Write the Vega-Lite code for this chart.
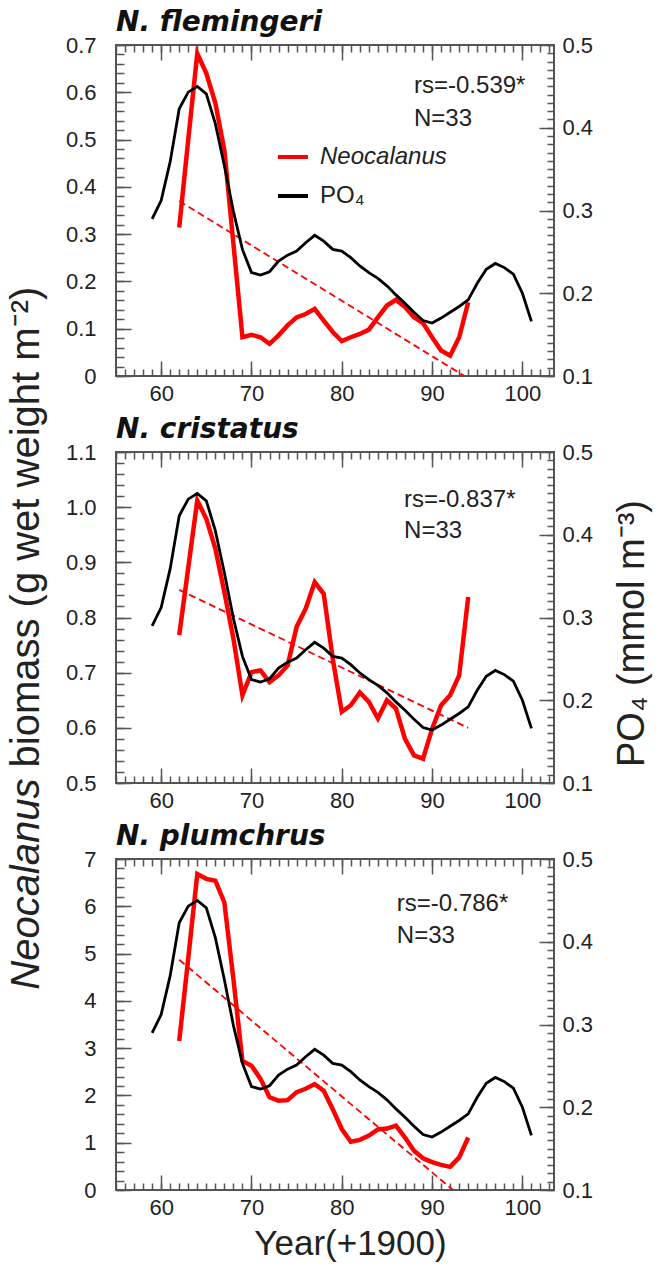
{
"$schema": "https://vega.github.io/schema/vega-lite/v6.json",
"padding": {"left": 4, "top": 8, "right": 2, "bottom": 2},
"autosize": {"type": "pad"},
"spacing": 76,
"bounds": "flush",
"config": {
  "view": {"stroke": "#555", "strokeWidth": 2},
  "axis": {"labelFont": "Liberation Sans", "labelFontSize": 22, "labelColor": "#222", "ticks": false, "domain": false, "grid": false, "gridColor": "#555", "gridWidth": 1.5, "gridOpacity": 1, "titleFont": "Liberation Sans", "titleFontWeight": "normal", "titleColor": "#222"},
  "title": {"font": "DejaVu Sans", "fontSize": 28, "fontWeight": "bold", "fontStyle": "italic", "anchor": "start", "frame": "group", "offset": -3, "color": "#111"}
},
"datasets": {
  "neo": [
    {"sp":"fl","year":62,"v":0.314},{"sp":"fl","year":63,"v":0.50},{"sp":"fl","year":64,"v":0.682},{"sp":"fl","year":65,"v":0.64},{"sp":"fl","year":66,"v":0.577},{"sp":"fl","year":67,"v":0.478},{"sp":"fl","year":68,"v":0.28},{"sp":"fl","year":69,"v":0.082},{"sp":"fl","year":70,"v":0.087},{"sp":"fl","year":71,"v":0.082},{"sp":"fl","year":72,"v":0.068},{"sp":"fl","year":73,"v":0.086},{"sp":"fl","year":74,"v":0.107},{"sp":"fl","year":75,"v":0.124},{"sp":"fl","year":76,"v":0.131},{"sp":"fl","year":77,"v":0.142},{"sp":"fl","year":78,"v":0.117},{"sp":"fl","year":79,"v":0.093},{"sp":"fl","year":80,"v":0.074},{"sp":"fl","year":81,"v":0.082},{"sp":"fl","year":82,"v":0.089},{"sp":"fl","year":83,"v":0.098},{"sp":"fl","year":84,"v":0.124},{"sp":"fl","year":85,"v":0.149},{"sp":"fl","year":86,"v":0.161},{"sp":"fl","year":87,"v":0.146},{"sp":"fl","year":88,"v":0.124},{"sp":"fl","year":89,"v":0.112},{"sp":"fl","year":90,"v":0.082},{"sp":"fl","year":91,"v":0.054},{"sp":"fl","year":92,"v":0.043},{"sp":"fl","year":93,"v":0.082},{"sp":"fl","year":94,"v":0.156},
    {"sp":"cr","year":62,"v":0.768},{"sp":"cr","year":63,"v":0.89},{"sp":"cr","year":64,"v":1.012},{"sp":"cr","year":65,"v":0.979},{"sp":"cr","year":66,"v":0.925},{"sp":"cr","year":67,"v":0.846},{"sp":"cr","year":68,"v":0.762},{"sp":"cr","year":69,"v":0.659},{"sp":"cr","year":70,"v":0.701},{"sp":"cr","year":71,"v":0.704},{"sp":"cr","year":72,"v":0.683},{"sp":"cr","year":73,"v":0.695},{"sp":"cr","year":74,"v":0.713},{"sp":"cr","year":75,"v":0.783},{"sp":"cr","year":76,"v":0.816},{"sp":"cr","year":77,"v":0.864},{"sp":"cr","year":78,"v":0.843},{"sp":"cr","year":79,"v":0.725},{"sp":"cr","year":80,"v":0.629},{"sp":"cr","year":81,"v":0.641},{"sp":"cr","year":82,"v":0.664},{"sp":"cr","year":83,"v":0.647},{"sp":"cr","year":84,"v":0.617},{"sp":"cr","year":85,"v":0.650},{"sp":"cr","year":86,"v":0.635},{"sp":"cr","year":87,"v":0.580},{"sp":"cr","year":88,"v":0.550},{"sp":"cr","year":89,"v":0.544},{"sp":"cr","year":90,"v":0.598},{"sp":"cr","year":91,"v":0.641},{"sp":"cr","year":92,"v":0.659},{"sp":"cr","year":93,"v":0.695},{"sp":"cr","year":94,"v":0.837},
    {"sp":"pl","year":62,"v":3.15},{"sp":"pl","year":63,"v":4.9},{"sp":"pl","year":64,"v":6.68},{"sp":"pl","year":65,"v":6.58},{"sp":"pl","year":66,"v":6.54},{"sp":"pl","year":67,"v":6.08},{"sp":"pl","year":68,"v":4.46},{"sp":"pl","year":69,"v":2.73},{"sp":"pl","year":70,"v":2.63},{"sp":"pl","year":71,"v":2.35},{"sp":"pl","year":72,"v":1.96},{"sp":"pl","year":73,"v":1.89},{"sp":"pl","year":74,"v":1.90},{"sp":"pl","year":75,"v":2.07},{"sp":"pl","year":76,"v":2.14},{"sp":"pl","year":77,"v":2.24},{"sp":"pl","year":78,"v":2.10},{"sp":"pl","year":79,"v":1.71},{"sp":"pl","year":80,"v":1.29},{"sp":"pl","year":81,"v":1.02},{"sp":"pl","year":82,"v":1.06},{"sp":"pl","year":83,"v":1.15},{"sp":"pl","year":84,"v":1.28},{"sp":"pl","year":85,"v":1.30},{"sp":"pl","year":86,"v":1.36},{"sp":"pl","year":87,"v":1.11},{"sp":"pl","year":88,"v":0.83},{"sp":"pl","year":89,"v":0.67},{"sp":"pl","year":90,"v":0.59},{"sp":"pl","year":91,"v":0.53},{"sp":"pl","year":92,"v":0.49},{"sp":"pl","year":93,"v":0.69},{"sp":"pl","year":94,"v":1.11}
  ],
  "po4": [
    {"year":59,"v":0.290},{"year":60,"v":0.312},{"year":61,"v":0.359},{"year":62,"v":0.423},{"year":63,"v":0.443},{"year":64,"v":0.450},{"year":65,"v":0.441},{"year":66,"v":0.405},{"year":67,"v":0.354},{"year":68,"v":0.299},{"year":69,"v":0.253},{"year":70,"v":0.225},{"year":71,"v":0.222},{"year":72,"v":0.226},{"year":73,"v":0.239},{"year":74,"v":0.246},{"year":75,"v":0.251},{"year":76,"v":0.261},{"year":77,"v":0.270},{"year":78,"v":0.263},{"year":79,"v":0.253},{"year":80,"v":0.251},{"year":81,"v":0.243},{"year":82,"v":0.233},{"year":83,"v":0.225},{"year":84,"v":0.218},{"year":85,"v":0.209},{"year":86,"v":0.198},{"year":87,"v":0.188},{"year":88,"v":0.177},{"year":89,"v":0.167},{"year":90,"v":0.164},{"year":91,"v":0.170},{"year":92,"v":0.177},{"year":93,"v":0.184},{"year":94,"v":0.192},{"year":95,"v":0.212},{"year":96,"v":0.229},{"year":97,"v":0.236},{"year":98,"v":0.231},{"year":99,"v":0.223},{"year":100,"v":0.200},{"year":101,"v":0.166}
  ],
  "fit": [
    {"sp":"fl","year":62,"v":0.37},{"sp":"fl","year":94,"v":-0.005},
    {"sp":"cr","year":62,"v":0.85},{"sp":"cr","year":94,"v":0.60},
    {"sp":"pl","year":62,"v":4.87},{"sp":"pl","year":94,"v":-0.27}
  ],
  "ann": [
    {"sp":"fl","year":88,"y":0.45,"label":"rs=-0.539*"},{"sp":"fl","year":88,"y":0.411,"label":"N=33"},
    {"sp":"cr","year":86.9,"y":0.442,"label":"rs=-0.837*"},{"sp":"cr","year":86.9,"y":0.405,"label":"N=33"},
    {"sp":"pl","year":86.1,"y":0.446,"label":"rs=-0.786*"},{"sp":"pl","year":86.1,"y":0.407,"label":"N=33"}
  ]
},
"vconcat": [
  {
    "title": "N. flemingeri",
    "width": 438, "height": 331,
    "resolve": {"scale": {"y": "independent"}, "axis": {"x": "independent", "y": "independent"}},
    "layer": [
      {"data": {"name": "neo"}, "transform": [{"filter": "datum.sp === 'fl'"}],
       "mark": {"type": "line", "strokeWidth": 4.5, "clip": true},
       "encoding": {
         "x": {"field": "year", "type": "quantitative", "scale": {"domain": [55, 103.5], "nice": false, "zero": false}, "axis": {"orient": "bottom", "values": [60,70,80,90,100], "labelPadding": 7, "title": null}},
         "y": {"field": "v", "type": "quantitative", "scale": {"domain": [0, 0.7], "nice": false, "zero": false}, "axis": {"orient": "left", "values": [0,0.1,0.2,0.3,0.4,0.5,0.6,0.7], "labelExpr": "datum.value == 0 ? '0' : format(datum.value, '.1f')", "labelPadding": 20,
            "title": "biomass (g wet weight m⁻²)", "titleFontSize": 40, "titleAngle": 270, "titleAlign": "left", "titleBaseline": "bottom", "titleX": -70, "titleY": 722}},
         "color": {"datum": "Neocalanus", "type": "nominal", "scale": {"domain": ["Neocalanus", "PO₄"], "range": ["#ff0000", "#000000"]},
           "legend": {"orient": "none", "legendX": 160, "legendY": 95, "title": null, "symbolType": "stroke", "symbolSize": 900, "symbolStrokeWidth": 4, "labelFont": "Liberation Sans", "labelFontSize": 24, "labelColor": "#222", "labelOffset": 10, "rowPadding": 10,
             "encode": {"labels": {"update": {"fontStyle": {"signal": "datum.value === 'Neocalanus' ? 'italic' : 'normal'"}}}}}}
       }},
      {"data": {"name": "fit"}, "transform": [{"filter": "datum.sp === 'fl'"}],
       "mark": {"type": "line", "color": "#ff0000", "strokeWidth": 1.8, "strokeDash": [7, 4], "clip": true},
       "encoding": {
         "x": {"field": "year", "type": "quantitative", "scale": {"domain": [55, 103.5], "nice": false, "zero": false}, "axis": {"orient": "bottom", "values": [60,70,80,90,100], "labels": false, "grid": true, "gridDash": [15, 301, 15, 1000], "title": null}},
         "y": {"field": "v", "type": "quantitative", "scale": {"domain": [0, 0.7], "nice": false, "zero": false}, "axis": {"orient": "left", "values": [0,0.1,0.2,0.3,0.4,0.5,0.6,0.7], "labels": false, "grid": true, "gridDash": [15, 1000], "title": null}}
       }},
      {"data": {"name": "po4"},
       "mark": {"type": "line", "strokeWidth": 2.8, "clip": true},
       "encoding": {
         "x": {"field": "year", "type": "quantitative", "scale": {"domain": [55, 103.5], "nice": false, "zero": false}, "axis": {"orient": "top", "values": [55,56,57,58,59,60,61,62,63,64,65,66,67,68,69,70,71,72,73,74,75,76,77,78,79,80,81,82,83,84,85,86,87,88,89,90,91,92,93,94,95,96,97,98,99,100,101,102,103], "labels": false, "grid": true, "gridDash": [7, 317, 7, 1000], "title": null}},
         "y": {"field": "v", "type": "quantitative", "scale": {"domain": [0.1, 0.5], "nice": false, "zero": false}, "axis": {"orient": "right", "values": [0.1,0.2,0.3,0.4,0.5], "format": ".1f", "labelPadding": 8,
            "title": "PO₄ (mmol m⁻³)", "titleFontSize": 38, "titleAngle": 270, "titleAlign": "center", "titleBaseline": "top", "titleX": 59, "titleY": 588}},
         "color": {"datum": "PO₄", "type": "nominal"}
       }},
      {"data": {"name": "ann"}, "transform": [{"filter": "datum.sp === 'fl'"}],
       "mark": {"type": "text", "align": "left", "baseline": "middle", "font": "Liberation Sans", "fontSize": 24, "color": "#222"},
       "encoding": {
         "x": {"field": "year", "type": "quantitative", "scale": {"domain": [55, 103.5], "nice": false, "zero": false}, "axis": null},
         "y": {"field": "y", "type": "quantitative", "scale": {"domain": [0.1, 0.5], "nice": false, "zero": false}, "axis": {"orient": "right", "values": [0.1,0.2,0.3,0.4,0.5], "labels": false, "grid": true, "gridDash": [15, 1000], "title": null}},
         "text": {"field": "label"}
       }},
      {"data": {"name": "po4"},
       "mark": {"type": "line", "opacity": 0, "color": "#000000"},
       "encoding": {
         "x": {"field": "year", "type": "quantitative", "scale": {"domain": [55, 103.5], "nice": false, "zero": false}, "axis": null},
         "y": {"field": "v", "type": "quantitative", "scale": {"domain": [0.1, 0.5], "nice": false, "zero": false}, "axis": {"orient": "right", "values": [0.1,0.11,0.12,0.13,0.14,0.15,0.16,0.17,0.18,0.19,0.2,0.21,0.22,0.23,0.24,0.25,0.26,0.27,0.28,0.29,0.3,0.31,0.32,0.33,0.34,0.35,0.36,0.37,0.38,0.39,0.4,0.41,0.42,0.43,0.44,0.45,0.46,0.47,0.48,0.49,0.5], "labels": false, "grid": true, "gridDash": [7, 1000], "title": null}}
       }},
      {"data": {"name": "neo"}, "transform": [{"filter": "datum.sp === 'fl'"}],
       "mark": {"type": "line", "opacity": 0, "color": "#ff0000"},
       "encoding": {
         "x": {"field": "year", "type": "quantitative", "scale": {"domain": [55, 103.5], "nice": false, "zero": false}, "axis": null},
         "y": {"field": "v", "type": "quantitative", "scale": {"domain": [0, 0.7], "nice": false, "zero": false}, "axis": {"orient": "left", "values": [0,0.02,0.04,0.06,0.08,0.1,0.12,0.14,0.16,0.18,0.2,0.22,0.24,0.26,0.28,0.3,0.32,0.34,0.36,0.38,0.4,0.42,0.44,0.46,0.48,0.5,0.52,0.54,0.56,0.58,0.6,0.62,0.64,0.66,0.68,0.7], "labels": false, "grid": true, "gridDash": [8, 1000], "title": null}}
       }},
      {"data": {"name": "neo"}, "transform": [{"filter": "datum.sp === 'fl'"}],
       "mark": {"type": "line", "opacity": 0, "color": "#ff0000"},
       "encoding": {
         "x": {"field": "year", "type": "quantitative", "scale": {"domain": [55, 103.5], "nice": false, "zero": false}, "axis": null},
         "y": {"field": "v", "type": "quantitative", "scale": {"domain": [0, 0.7], "nice": false, "zero": false}, "axis": {"orient": "left", "labels": false,
            "title": "Neocalanus", "titleFontStyle": "italic", "titleFontSize": 40, "titleAngle": 270, "titleAlign": "right", "titleBaseline": "bottom", "titleX": -70, "titleY": 733}}
       }}
    ]
  },
  {
    "title": "N. cristatus",
    "width": 438, "height": 331,
    "resolve": {"scale": {"y": "independent"}, "axis": {"x": "independent", "y": "independent"}},
    "layer": [
      {"data": {"name": "neo"}, "transform": [{"filter": "datum.sp === 'cr'"}],
       "mark": {"type": "line", "strokeWidth": 4.5, "clip": true, "color": "#ff0000"},
       "encoding": {
         "x": {"field": "year", "type": "quantitative", "scale": {"domain": [55, 103.5], "nice": false, "zero": false}, "axis": {"orient": "bottom", "values": [60,70,80,90,100], "labelPadding": 7, "title": null}},
         "y": {"field": "v", "type": "quantitative", "scale": {"domain": [0.5, 1.1], "nice": false, "zero": false}, "axis": {"orient": "left", "values": [0.5,0.6,0.7,0.8,0.9,1.0,1.1], "format": ".1f", "labelPadding": 20, "title": null}}
       }},
      {"data": {"name": "fit"}, "transform": [{"filter": "datum.sp === 'cr'"}],
       "mark": {"type": "line", "color": "#ff0000", "strokeWidth": 1.8, "strokeDash": [7, 4], "clip": true},
       "encoding": {
         "x": {"field": "year", "type": "quantitative", "scale": {"domain": [55, 103.5], "nice": false, "zero": false}, "axis": {"orient": "bottom", "values": [60,70,80,90,100], "labels": false, "grid": true, "gridDash": [15, 301, 15, 1000], "title": null}},
         "y": {"field": "v", "type": "quantitative", "scale": {"domain": [0.5, 1.1], "nice": false, "zero": false}, "axis": {"orient": "left", "values": [0.5,0.6,0.7,0.8,0.9,1.0,1.1], "labels": false, "grid": true, "gridDash": [15, 1000], "title": null}}
       }},
      {"data": {"name": "po4"},
       "mark": {"type": "line", "strokeWidth": 2.8, "clip": true, "color": "#000000"},
       "encoding": {
         "x": {"field": "year", "type": "quantitative", "scale": {"domain": [55, 103.5], "nice": false, "zero": false}, "axis": {"orient": "top", "values": [55,56,57,58,59,60,61,62,63,64,65,66,67,68,69,70,71,72,73,74,75,76,77,78,79,80,81,82,83,84,85,86,87,88,89,90,91,92,93,94,95,96,97,98,99,100,101,102,103], "labels": false, "grid": true, "gridDash": [7, 317, 7, 1000], "title": null}},
         "y": {"field": "v", "type": "quantitative", "scale": {"domain": [0.1, 0.5], "nice": false, "zero": false}, "axis": {"orient": "right", "values": [0.1,0.2,0.3,0.4,0.5], "format": ".1f", "labelPadding": 8, "title": null}}
       }},
      {"data": {"name": "ann"}, "transform": [{"filter": "datum.sp === 'cr'"}],
       "mark": {"type": "text", "align": "left", "baseline": "middle", "font": "Liberation Sans", "fontSize": 24, "color": "#222"},
       "encoding": {
         "x": {"field": "year", "type": "quantitative", "scale": {"domain": [55, 103.5], "nice": false, "zero": false}, "axis": null},
         "y": {"field": "y", "type": "quantitative", "scale": {"domain": [0.1, 0.5], "nice": false, "zero": false}, "axis": {"orient": "right", "values": [0.1,0.2,0.3,0.4,0.5], "labels": false, "grid": true, "gridDash": [15, 1000], "title": null}},
         "text": {"field": "label"}
       }},
      {"data": {"name": "po4"},
       "mark": {"type": "line", "opacity": 0, "color": "#000000"},
       "encoding": {
         "x": {"field": "year", "type": "quantitative", "scale": {"domain": [55, 103.5], "nice": false, "zero": false}, "axis": null},
         "y": {"field": "v", "type": "quantitative", "scale": {"domain": [0.1, 0.5], "nice": false, "zero": false}, "axis": {"orient": "right", "values": [0.1,0.11,0.12,0.13,0.14,0.15,0.16,0.17,0.18,0.19,0.2,0.21,0.22,0.23,0.24,0.25,0.26,0.27,0.28,0.29,0.3,0.31,0.32,0.33,0.34,0.35,0.36,0.37,0.38,0.39,0.4,0.41,0.42,0.43,0.44,0.45,0.46,0.47,0.48,0.49,0.5], "labels": false, "grid": true, "gridDash": [7, 1000], "title": null}}
       }},
      {"data": {"name": "neo"}, "transform": [{"filter": "datum.sp === 'cr'"}],
       "mark": {"type": "line", "opacity": 0, "color": "#ff0000"},
       "encoding": {
         "x": {"field": "year", "type": "quantitative", "scale": {"domain": [55, 103.5], "nice": false, "zero": false}, "axis": null},
         "y": {"field": "v", "type": "quantitative", "scale": {"domain": [0.5, 1.1], "nice": false, "zero": false}, "axis": {"orient": "left", "values": [0.5,0.52,0.54,0.56,0.58,0.6,0.62,0.64,0.66,0.68,0.7,0.72,0.74,0.76,0.78,0.8,0.82,0.84,0.86,0.88,0.9,0.92,0.94,0.96,0.98,1.0,1.02,1.04,1.06,1.08,1.1], "labels": false, "grid": true, "gridDash": [8, 1000], "title": null}}
       }}
    ]
  },
  {
    "title": "N. plumchrus",
    "width": 438, "height": 331,
    "resolve": {"scale": {"y": "independent"}, "axis": {"x": "independent", "y": "independent"}},
    "layer": [
      {"data": {"name": "neo"}, "transform": [{"filter": "datum.sp === 'pl'"}],
       "mark": {"type": "line", "strokeWidth": 4.5, "clip": true, "color": "#ff0000"},
       "encoding": {
         "x": {"field": "year", "type": "quantitative", "scale": {"domain": [55, 103.5], "nice": false, "zero": false}, "axis": {"orient": "bottom", "values": [60,70,80,90,100], "labelPadding": 7, "title": "Year(+1900)", "titleFontSize": 35, "titlePadding": 8, "titleX": 234, "titleAlign": "center"}},
         "y": {"field": "v", "type": "quantitative", "scale": {"domain": [0, 7], "nice": false, "zero": false}, "axis": {"orient": "left", "values": [0,1,2,3,4,5,6,7], "format": "d", "labelPadding": 20, "title": null}}
       }},
      {"data": {"name": "fit"}, "transform": [{"filter": "datum.sp === 'pl'"}],
       "mark": {"type": "line", "color": "#ff0000", "strokeWidth": 1.8, "strokeDash": [7, 4], "clip": true},
       "encoding": {
         "x": {"field": "year", "type": "quantitative", "scale": {"domain": [55, 103.5], "nice": false, "zero": false}, "axis": {"orient": "bottom", "values": [60,70,80,90,100], "labels": false, "grid": true, "gridDash": [15, 301, 15, 1000], "title": null}},
         "y": {"field": "v", "type": "quantitative", "scale": {"domain": [0, 7], "nice": false, "zero": false}, "axis": {"orient": "left", "values": [0,1,2,3,4,5,6,7], "labels": false, "grid": true, "gridDash": [15, 1000], "title": null}}
       }},
      {"data": {"name": "po4"},
       "mark": {"type": "line", "strokeWidth": 2.8, "clip": true, "color": "#000000"},
       "encoding": {
         "x": {"field": "year", "type": "quantitative", "scale": {"domain": [55, 103.5], "nice": false, "zero": false}, "axis": {"orient": "top", "values": [55,56,57,58,59,60,61,62,63,64,65,66,67,68,69,70,71,72,73,74,75,76,77,78,79,80,81,82,83,84,85,86,87,88,89,90,91,92,93,94,95,96,97,98,99,100,101,102,103], "labels": false, "grid": true, "gridDash": [7, 317, 7, 1000], "title": null}},
         "y": {"field": "v", "type": "quantitative", "scale": {"domain": [0.1, 0.5], "nice": false, "zero": false}, "axis": {"orient": "right", "values": [0.1,0.2,0.3,0.4,0.5], "format": ".1f", "labelPadding": 8, "title": null}}
       }},
      {"data": {"name": "ann"}, "transform": [{"filter": "datum.sp === 'pl'"}],
       "mark": {"type": "text", "align": "left", "baseline": "middle", "font": "Liberation Sans", "fontSize": 24, "color": "#222"},
       "encoding": {
         "x": {"field": "year", "type": "quantitative", "scale": {"domain": [55, 103.5], "nice": false, "zero": false}, "axis": null},
         "y": {"field": "y", "type": "quantitative", "scale": {"domain": [0.1, 0.5], "nice": false, "zero": false}, "axis": {"orient": "right", "values": [0.1,0.2,0.3,0.4,0.5], "labels": false, "grid": true, "gridDash": [15, 1000], "title": null}},
         "text": {"field": "label"}
       }},
      {"data": {"name": "po4"},
       "mark": {"type": "line", "opacity": 0, "color": "#000000"},
       "encoding": {
         "x": {"field": "year", "type": "quantitative", "scale": {"domain": [55, 103.5], "nice": false, "zero": false}, "axis": null},
         "y": {"field": "v", "type": "quantitative", "scale": {"domain": [0.1, 0.5], "nice": false, "zero": false}, "axis": {"orient": "right", "values": [0.1,0.11,0.12,0.13,0.14,0.15,0.16,0.17,0.18,0.19,0.2,0.21,0.22,0.23,0.24,0.25,0.26,0.27,0.28,0.29,0.3,0.31,0.32,0.33,0.34,0.35,0.36,0.37,0.38,0.39,0.4,0.41,0.42,0.43,0.44,0.45,0.46,0.47,0.48,0.49,0.5], "labels": false, "grid": true, "gridDash": [7, 1000], "title": null}}
       }},
      {"data": {"name": "neo"}, "transform": [{"filter": "datum.sp === 'pl'"}],
       "mark": {"type": "line", "opacity": 0, "color": "#ff0000"},
       "encoding": {
         "x": {"field": "year", "type": "quantitative", "scale": {"domain": [55, 103.5], "nice": false, "zero": false}, "axis": null},
         "y": {"field": "v", "type": "quantitative", "scale": {"domain": [0, 7], "nice": false, "zero": false}, "axis": {"orient": "left", "values": [0,0.2,0.4,0.6,0.8,1,1.2,1.4,1.6,1.8,2,2.2,2.4,2.6,2.8,3,3.2,3.4,3.6,3.8,4,4.2,4.4,4.6,4.8,5,5.2,5.4,5.6,5.8,6,6.2,6.4,6.6,6.8,7], "labels": false, "grid": true, "gridDash": [8, 1000], "title": null}}
       }}
    ]
  }
]
}
